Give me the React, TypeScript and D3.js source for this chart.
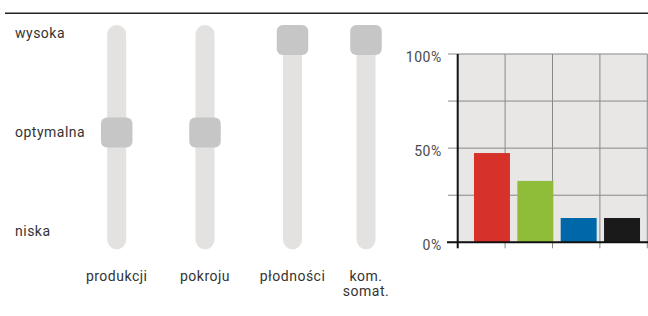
import React from "react";
import * as d3 from "d3";

const sliderCategories = ["produkcji", "pokroju", "płodności", "kom.|somat."];
const sliderPositions = [116.7, 205, 292.5, 366];
const sliderLevels = ["niska", "optymalna", "wysoka"];
const sliderValues = ["optymalna", "optymalna", "wysoka", "wysoka"];

const barCategories = ["a", "b", "c", "d"];
const barValues = [47.4, 32.6, 12.9, 12.9];
const barColors = ["#d6322a", "#8fbd39", "#0068a8", "#1a1a1a"];
const yTickLabels = [0, 50, 100];
const gridValues = [0, 25, 50, 75, 100];

const W = 648;
const H = 316;
const FONT = "Roboto, 'DejaVu Sans', sans-serif";

export default function App() {
  // slider scales
  const sx = d3.scaleOrdinal<string, number>().domain(sliderCategories).range(sliderPositions);
  const knobY = d3.scalePoint<string>().domain(sliderLevels).range([225, 40]);
  const labelY = d3.scalePoint<string>().domain(sliderLevels).range([235.7, 38]);
  const trackTop = 25;
  const trackBottom = 249.3;
  const trackW = 19;
  const knobW = 31.5;
  const knobH = 30;

  // bar chart scales
  const plotL = 457.7;
  const plotR = 647.3;
  const plotT = 54;
  const plotB = 242.3;
  const y = d3.scaleLinear().domain([0, 100]).range([plotB, plotT]);
  const gx = d3.scaleLinear().domain([0, 4]).range([plotL, plotR]);
  const bx = d3
    .scaleBand<string>()
    .domain(barCategories)
    .range([470.3, 643.7])
    .paddingInner(0.17)
    .paddingOuter(0.085);

  return (
    <svg
      width={W}
      height={H}
      style={{ position: "absolute", left: 0, top: 0, fontFamily: FONT }}
    >
      <rect x={0} y={0} width={W} height={H} fill="#ffffff" />
      <line x1={5} x2={648} y1={13.3} y2={13.3} stroke="#222" strokeWidth={1.5} />

      {/* level labels */}
      {sliderLevels.map((l) => (
        <text key={l} x={15} y={labelY(l)} fontSize={14} fill="#333" letterSpacing={0.5}>
          {l}
        </text>
      ))}

      {/* sliders */}
      {sliderCategories.map((c, i) => {
        const cx = sx(c);
        const ky = knobY(sliderValues[i])!;
        const lines = c.split("|");
        return (
          <g key={c}>
            <rect
              x={cx - trackW / 2}
              y={trackTop}
              width={trackW}
              height={trackBottom - trackTop}
              rx={trackW / 2}
              fill="#e3e2e1"
            />
            <rect
              x={cx - knobW / 2}
              y={ky - knobH / 2}
              width={knobW}
              height={knobH}
              rx={6}
              fill="#c6c6c6"
            />
            <text y={281} fontSize={14} fill="#333" textAnchor="middle" letterSpacing={0.5}>
              {lines.map((t, j) => (
                <tspan key={j} x={cx} dy={j === 0 ? 0 : 15}>
                  {t}
                </tspan>
              ))}
            </text>
          </g>
        );
      })}

      {/* bar chart */}
      <rect x={plotL} y={plotT} width={plotR - plotL} height={plotB - plotT} fill="#e8e7e6" />
      {gridValues.map((v) => (
        <line
          key={"h" + v}
          x1={448}
          x2={plotR}
          y1={y(v)}
          y2={y(v)}
          stroke="#888"
          strokeWidth={1}
        />
      ))}
      {d3.range(1, 5).map((i) => (
        <line
          key={"v" + i}
          x1={gx(i)}
          x2={gx(i)}
          y1={plotT}
          y2={248.3}
          stroke="#888"
          strokeWidth={1}
        />
      ))}
      {barCategories.map((c, i) => (
        <rect
          key={c}
          x={bx(c)}
          y={y(barValues[i])}
          width={bx.bandwidth()}
          height={plotB - y(barValues[i])}
          fill={barColors[i]}
        />
      ))}
      <line x1={plotL} x2={plotL} y1={plotT} y2={248.3} stroke="#111" strokeWidth={2} />
      <line x1={447} x2={W} y1={plotB} y2={plotB} stroke="#111" strokeWidth={2} />
      {yTickLabels.map((v) => (
        <text
          key={"t" + v}
          x={441.7}
          y={y(v) + 8}
          fontSize={14}
          fill="#4a4a4a"
          textAnchor="end"
          letterSpacing={0.5}
        >
          {v}%
        </text>
      ))}
    </svg>
  );
}
